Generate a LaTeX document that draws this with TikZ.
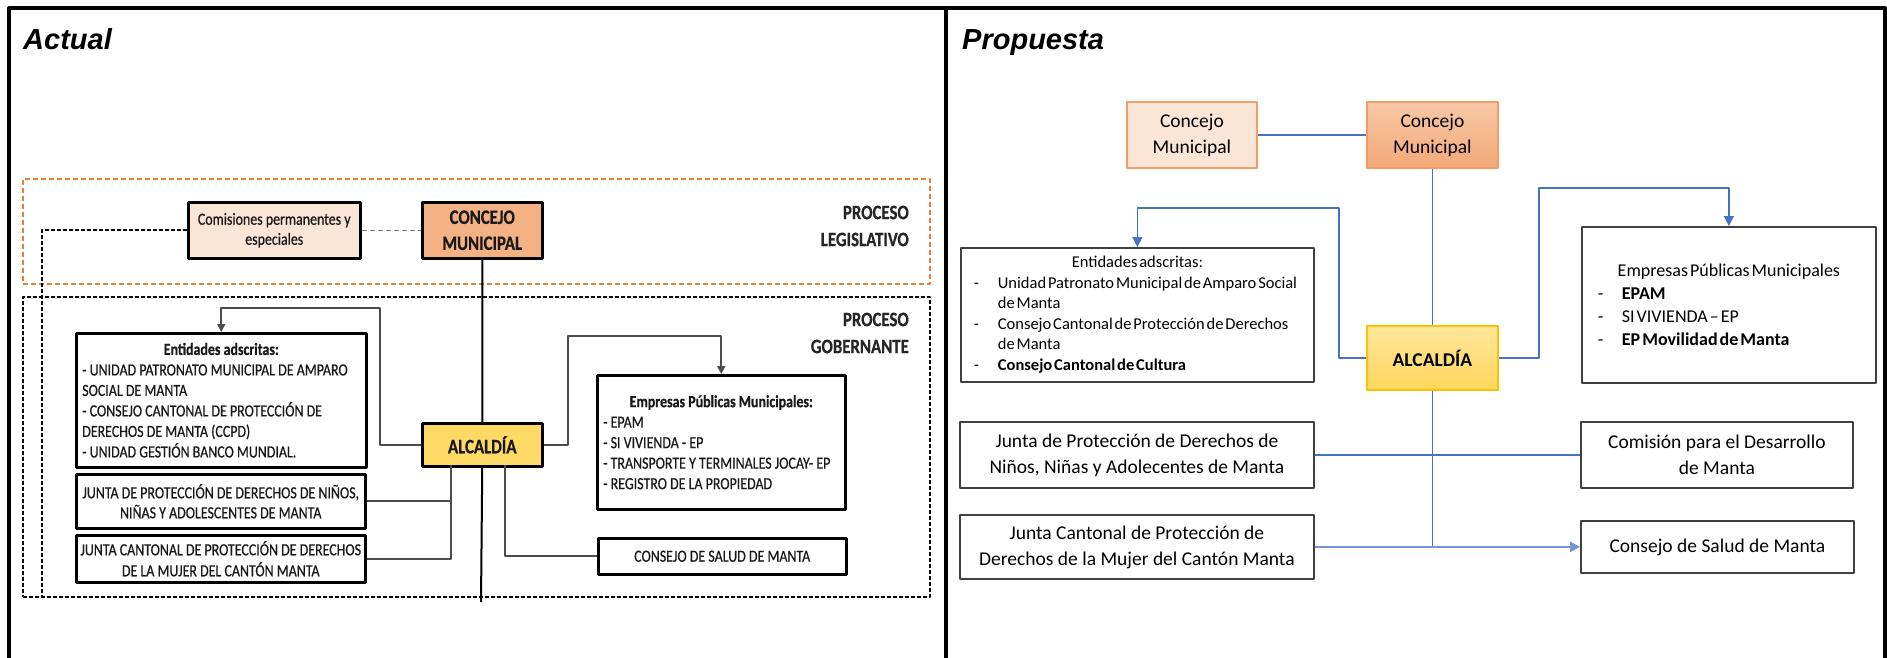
\documentclass[tikz,border=0pt]{standalone}
\usepackage{fontspec}
\setmainfont{Carlito}
\newfontfamily\viejafont[FakeStretch=0.82, FakeBold=0.6]{Carlito}
\newfontfamily\apretada[WordSpace=0.5]{Carlito}
\newfontfamily\titulofont{Liberation Sans}
\usetikzlibrary{arrows.meta}
\definecolor{azul}{HTML}{4472C4}
\definecolor{naranja}{HTML}{ED7D31}
\definecolor{salmon}{HTML}{F4B183}
\definecolor{durazno}{HTML}{FBE5D6}
\definecolor{oro}{HTML}{FFC000}
\definecolor{amarillo}{HTML}{FFD966}
\definecolor{grisosc}{HTML}{404040}
\newcommand{\guion}{\makebox[28pt][l]{\hspace{4pt}-}}
\newcommand{\sigue}{\hspace*{28pt}}
\tikzset{
  caja/.style={draw, anchor=north west, inner sep=0pt, align=center},
  viejo/.style={caja, line width=2.5pt, text=black!90, font=\viejafont\fontsize{17}{20.5}\selectfont},
  nuevo/.style={caja, draw=grisosc, line width=1.8pt, font=\fontsize{19.5}{26}\selectfont},
  titulo/.style={anchor=base west, inner sep=0pt, font=\titulofont\bfseries\itshape\fontsize{29}{34}\selectfont},
  proceso/.style={anchor=east, align=right, inner sep=0pt, text=black!85, font=\viejafont\bfseries\fontsize{20.5}{27}\selectfont},
  rama/.style={draw=black!70, line width=1.6pt},
  azulin/.style={draw=azul, line width=1.5pt},
}
\begin{document}
\begin{tikzpicture}[x=1pt, y=-1pt, line join=round, >={Triangle[length=8pt, width=8pt]}]
\useasboundingbox (0,0) rectangle (1887,658);
\draw[line width=4pt] (9,658) -- (9,8.5) -- (1885,8.5) -- (1885,658) (946,8.5) -- (946,658);
\node[titulo] (actual) at (23,50) {Actual};
\node[titulo] (propuesta) at (962,50) {Propuesta};

% actual
\node[caja, draw=naranja, line width=1.5pt, dash pattern=on 5pt off 3pt, minimum width=907pt, minimum height=105pt] (legislativo) at (22,178) {};
\node[caja, line width=2.2pt, dash pattern=on 4pt off 2pt, minimum width=907pt, minimum height=300pt] (gobernante) at (22,296) {};
\node[proceso] (procLeg) at (909,226) {PROCESO\\LEGISLATIVO};
\node[proceso] (procGob) at (909,333) {PROCESO\\GOBERNANTE};
\node[viejo, fill=durazno, minimum width=172pt, minimum height=56pt, font=\viejafont\fontsize{17}{20}\selectfont] (comisiones) at (187,201) {Comisiones permanentes y\\especiales};
\node[viejo, fill=salmon, minimum width=120pt, minimum height=56pt, font=\viejafont\bfseries\fontsize{20.5}{26}\selectfont] (concejoA) at (421,201) {CONCEJO\\MUNICIPAL};
\node[viejo, fill=amarillo, minimum width=120pt, minimum height=43pt, font=\viejafont\bfseries\fontsize{20.5}{26}\selectfont] (alcaldiaA) at (421,422) {ALCALDÍA};
\node[viejo, align=flush left, text width=278pt, inner xsep=6pt, minimum height=134pt] (entidadesA) at (75,332) {{\centering\textbf{Entidades adscritas:}\par}- UNIDAD PATRONATO MUNICIPAL DE AMPARO\\SOCIAL DE MANTA\\- CONSEJO CANTONAL DE PROTECCIÓN DE\\DERECHOS DE MANTA (CCPD)\\- UNIDAD GESTIÓN BANCO MUNDIAL.};
\node[viejo, minimum width=289pt, minimum height=54pt, font=\viejafont\fontsize{17}{20}\selectfont] (juntaA1) at (75,473) {JUNTA DE PROTECCIÓN DE DERECHOS DE NIÑOS,\\NIÑAS Y ADOLESCENTES DE MANTA};
\node[viejo, minimum width=289pt, minimum height=47pt, font=\viejafont\fontsize{17}{21}\selectfont] (juntaA2) at (75,534) {JUNTA CANTONAL DE PROTECCIÓN DE DERECHOS\\DE LA MUJER DEL CANTÓN MANTA};
\node[viejo, align=flush left, text width=236pt, inner xsep=6pt, minimum height=134pt] (empresasA) at (596,374) {{\centering\textbf{Empresas Públicas Municipales:}\par}- EPAM\\- SI VIVIENDA - EP\\- TRANSPORTE Y TERMINALES JOCAY- EP\\- REGISTRO DE LA PROPIEDAD\\[20.5pt]};
\node[viejo, minimum width=248pt, minimum height=36pt] (saludA) at (597,537) {CONSEJO DE SALUD DE MANTA};

\path (380,308) coordinate (codoEntA) (568,336) coordinate (codoEmpA) (451,465) coordinate (ramaIzq) (505,465) coordinate (ramaDer) (481,602) coordinate (finEje) (42,597) coordinate (finCom);
\draw[line width=2pt] (concejoA) -- (alcaldiaA) (alcaldiaA.south) -- (finEje);
\draw[gray, line width=1.5pt, dash pattern=on 5pt off 3pt] (comisiones) -- (concejoA);
\draw[line width=2.2pt, dash pattern=on 4pt off 2pt] (comisiones.west) -| (finCom);
\foreach \lado/\codo/\dest in {west/codoEntA/entidadesA, east/codoEmpA/empresasA}
  \draw[rama, ->] (alcaldiaA.\lado) -| (\codo) -| (\dest.north);
\draw[rama] (ramaIzq) |- (juntaA2.east) (juntaA1.east) -- (juntaA1.east -| ramaIzq);
\draw[rama] (ramaDer) |- (saludA.west);

% propuesta
\node[nuevo, draw=naranja!75, fill=durazno, minimum width=130pt, minimum height=66pt] (concejoL) at (1126,101) {Concejo\\Municipal};
\node[nuevo, draw=naranja!75, top color=salmon!70, bottom color=salmon!85!naranja, minimum width=131pt, minimum height=66pt] (concejoR) at (1366,101) {Concejo\\Municipal};
\node[nuevo, draw=oro, top color=amarillo!65, bottom color=amarillo!90!oro, minimum width=131pt, minimum height=64pt] (alcaldiaR) at (1366,325) {\textbf{ALCALDÍA}};
\node[nuevo, align=flush left, text width=335pt, inner xsep=9pt, minimum height=134pt, font=\apretada\fontsize{16.5}{20.5}\selectfont] (entidadesR) at (960,247) {{\centering Entidades adscritas:\par}\guion Unidad Patronato Municipal de Amparo Social\\\sigue de Manta\\\guion Consejo Cantonal de Protección de Derechos\\\sigue de Manta\\\guion\textbf{Consejo Cantonal de Cultura}};
\node[nuevo, align=flush left, text width=270pt, inner xsep=12pt, minimum height=156pt, font=\apretada\fontsize{18}{23}\selectfont] (empresasR) at (1581,226) {{\centering Empresas Públicas Municipales\par}\guion\textbf{EPAM}\\\guion SI VIVIENDA – EP\\\guion\textbf{EP Movilidad de Manta}};
\node[nuevo, minimum width=354pt, minimum height=66pt] (juntaPR) at (959,421) {Junta de Protección de Derechos de\\Niños, Niñas y Adolecentes de Manta};
\node[nuevo, minimum width=354pt, minimum height=64pt] (juntaCR) at (959,514) {Junta Cantonal de Protección de\\Derechos de la Mujer del Cantón Manta};
\node[nuevo, minimum width=272pt, minimum height=66pt] (comisionR) at (1580,421) {Comisión para el Desarrollo\\de Manta};
\node[nuevo, minimum width=273pt, minimum height=52pt] (saludR) at (1580,520) {Consejo de Salud de Manta};

\path (1339,208) coordinate (codoEntR) (1539,188) coordinate (codoEmpR);
\draw[azulin] (concejoL) -- (concejoR) (concejoR) -- (alcaldiaR);
\foreach \lado/\codo/\dest in {west/codoEntR/entidadesR, east/codoEmpR/empresasR}
  \draw[azulin, -{Triangle[length=10pt, width=10pt]}] (alcaldiaR.\lado) -| (\codo) -| (\dest.north);
\draw[azulin] (alcaldiaR.south) -- (alcaldiaR.south |- saludR.west) (juntaPR) -- (comisionR);
\draw[azulin, draw=azul!75, line width=2.5pt, -{Triangle[length=10pt, width=10pt]}] (juntaCR) -- (saludR);
\end{tikzpicture}
\end{document}
